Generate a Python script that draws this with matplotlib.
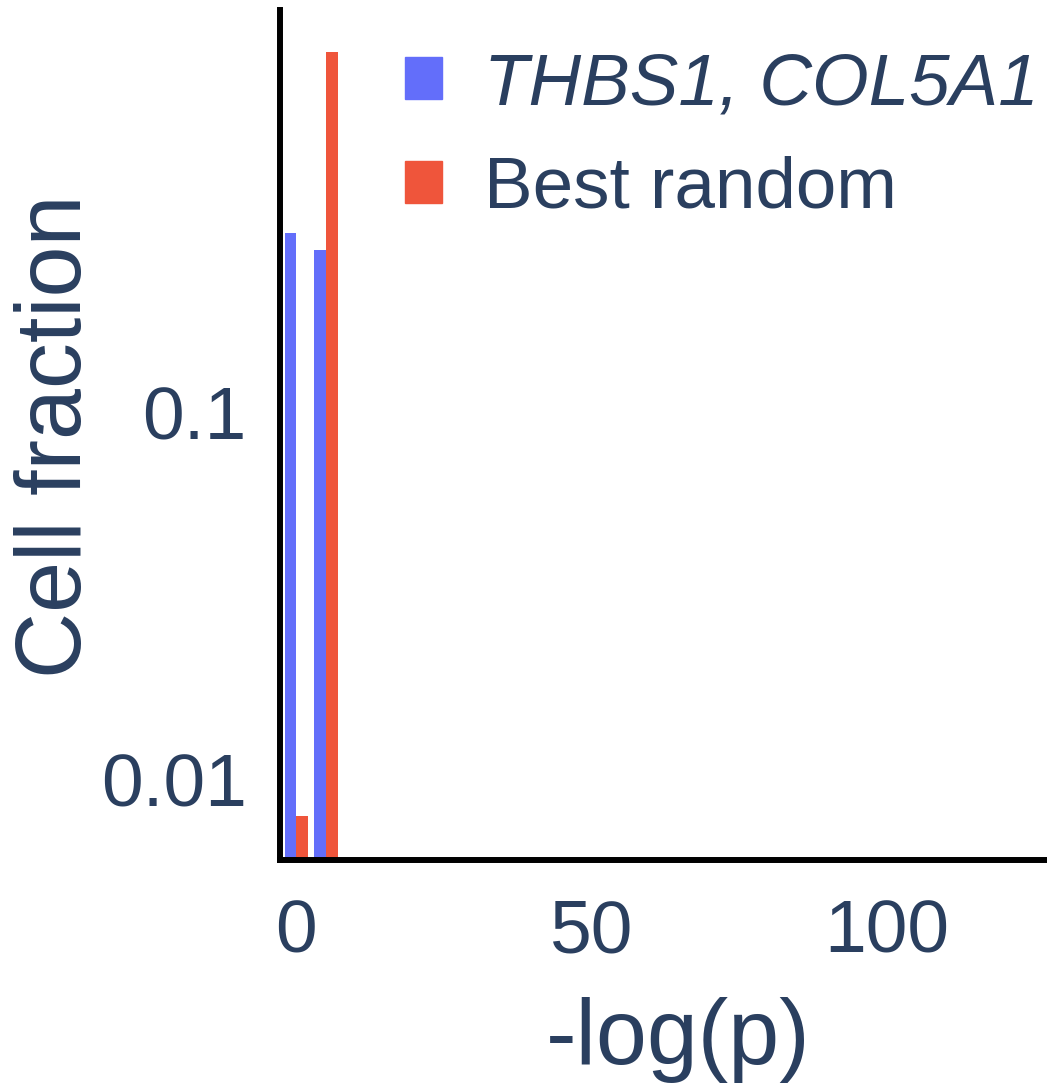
import matplotlib.pyplot as plt
from matplotlib.patches import Patch

plt.rcParams['font.family'] = ['Liberation Sans', 'DejaVu Sans']

# bin centers of -log(p) and cell fraction per series
bin_centers = [0, 5]
gene_pair = [0.309, 0.278]
best_random = [0.0080, 0.962]
series_names = ['THBS1, COL5A1', 'Best random']
series_colors = ['#636efa', '#ef553b']
text_color = '#2a3f5f'

W, H = 1047, 1087
fig = plt.figure(figsize=(W / 100, H / 100), dpi=100)
ax = fig.add_axes([280 / W, (H - 860) / H, (W - 280) / W, 850 / H])

bar_w = 2.0
ax.bar([c - bar_w / 2 for c in bin_centers], gene_pair, width=bar_w,
       color=series_colors[0], linewidth=0)
ax.bar([c + bar_w / 2 for c in bin_centers], best_random, width=bar_w,
       color=series_colors[1], linewidth=0)

ax.set_yscale('log')
ax.set_ylim(10 ** -2.218, 10 ** 0.098)
ax.set_xlim(-2.78, 127.1)
ax.set_xticks([0, 50, 100])
ax.set_xticklabels(['0', '50', '100'])
ax.set_yticks([0.01, 0.1])
ax.set_yticklabels(['0.01', '0.1'])
ax.minorticks_off()
ax.tick_params(axis='both', length=0, labelsize=54, colors=text_color)
ax.tick_params(axis='x', pad=28)
ax.tick_params(axis='y', pad=24)
for lbl in ax.get_yticklabels():
    lbl.set_va('center_baseline')

for side in ['top', 'right']:
    ax.spines[side].set_visible(False)
for side in ['left', 'bottom']:
    ax.spines[side].set_linewidth(4.3)
    ax.spines[side].set_color('black')

fig.text(678 / W, 1 - 1040 / H, '-log(p)', fontsize=66, color=text_color,
         ha='center', va='center')
fig.text(57 / W, 1 - 436 / H, 'Cell fraction', fontsize=66, color=text_color,
         ha='center', va='center', rotation=90)

handles = [Patch(color=c) for c in series_colors]
leg = ax.legend(handles, series_names, loc='upper left',
                bbox_to_anchor=(405 / W, 1 - 51 / H), bbox_transform=fig.transFigure,
                frameon=False, fontsize=52.5, borderpad=0, borderaxespad=0,
                handlelength=0.507, handleheight=0.507, handletextpad=0.575,
                labelspacing=0.5)
for t in leg.get_texts():
    t.set_color(text_color)
leg.get_texts()[0].set_style('italic')

fig.savefig('out.png', dpi=100)
